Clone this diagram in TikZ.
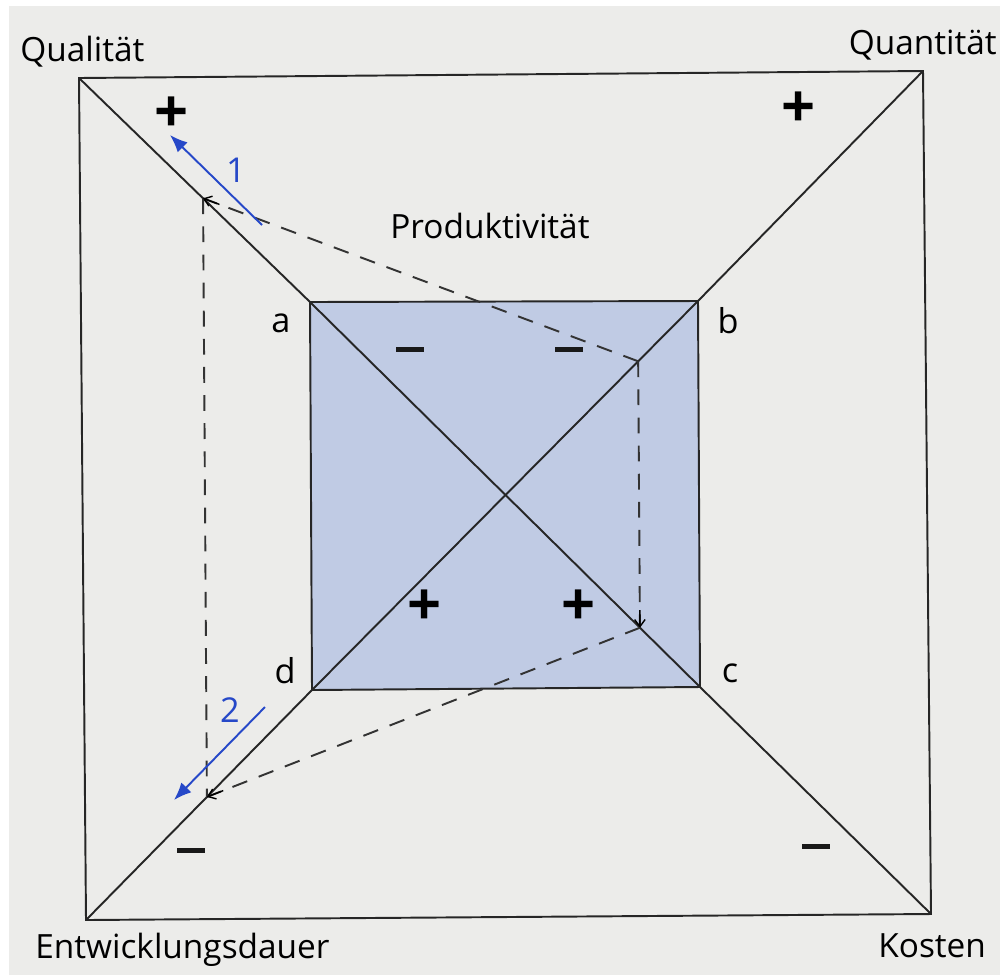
\documentclass[tikz,border=0pt]{standalone}
\usepackage{fontspec}
\setmainfont{Open Sans}
\usetikzlibrary{arrows.meta,calc}
\definecolor{bg}{RGB}{236,236,234}
\definecolor{boxblue}{RGB}{192,203,228}
\definecolor{arrowblue}{RGB}{38,72,200}
\begin{document}
\begin{tikzpicture}[x=0.02cm,y=-0.02cm,
  frame/.style={line width=1.1pt, draw=black!85, line join=miter},
  aux/.style={line width=1.1pt, draw=black!80, dash pattern=on 9pt off 7pt},
  tinytip/.style={-{Straight Barb[length=4pt,width=6pt,line width=0.8pt]}},
  sign/.style={font=\fontsize{34}{34}\selectfont\bfseries, inner sep=0pt},
  minus/.style={fill=black!90, minimum width=0.56cm, minimum height=0.1cm, inner sep=0pt},
  lbl/.style={font=\fontsize{19}{21}\selectfont, inner sep=0pt},
  corner/.style={font=\fontsize{19.5}{21}\selectfont, inner sep=0pt},
  bluearrow/.style={draw=arrowblue, line width=1.1pt, -{Latex[length=10pt,width=8pt]}},
  bluelbl/.style={font=\fontsize{19.5}{21}\selectfont, text=arrowblue, inner sep=0pt}]
\useasboundingbox (0,0) rectangle (1000,975);
\fill[bg] (0,0) rectangle (1000,975);
\fill[white] (0,0) rectangle (1000,6);
\fill[white] (0,0) rectangle (9,975);

% outer corners
\coordinate (Q) at (79,78);
\coordinate (T) at (923,71);
\coordinate (K) at (931,914);
\coordinate (E) at (86,920);
% inner corners
\coordinate (a) at (310,302);
\coordinate (b) at (698,301);
\coordinate (c) at (700,687);
\coordinate (d) at (312,690);

% inner square
\fill[boxblue] (a) -- (b) -- (c) -- (d) -- cycle;
\draw[frame] (a) -- (b) -- (c) -- (d) -- cycle;
\draw[frame] (Q) -- (T) -- (K) -- (E) -- cycle;
\draw[frame] (Q) -- (a);
\draw[frame] (T) -- (b);
\draw[frame] (K) -- (c);
\draw[frame] (E) -- (d);
\draw[frame] (a) -- (c);
\draw[frame] (b) -- (d);

% dashed quadrilateral
\coordinate (p1) at ($(Q)!0.537!(a)$);
\coordinate (p4) at ($(E)!0.535!(d)$);
\coordinate (p2) at ($(b)!0.155!(d)$);
\coordinate (p3) at ($(a)!0.846!(c)$);
\draw[aux] (p2) -- (p1);
\draw[aux] (p2) -- (p3);
\draw[aux] (p3) -- (p4);
\draw[aux] (p1) -- (p4);
\draw[tinytip, line width=0.8pt] ($(p1)!10pt!(p2)$) -- (p1);
\draw[tinytip, line width=0.8pt] ($(p4)!10pt!(p3)$) -- (p4);
\draw[tinytip, line width=0.8pt] ($(p3)!10pt!(p2)$) -- (p3);

% blue arrows
\coordinate (s1) at (262,225);
\coordinate (e1) at (170,135);
\coordinate (s2) at (265,707);
\coordinate (e2) at (174,800);
\draw[bluearrow] (s1) -- (e1);
\draw[bluearrow] (s2) -- (e2);
\node[bluelbl] (n1) at (236,170) {1};
\node[bluelbl] (n2) at (230,710) {2};

% signs
\node[sign] (sQ) at (172,115) {+};
\node[sign] (sT) at (799,110) {+};
\node[minus] (sE) at (191,850) {};
\node[minus] (sK) at (816,846) {};
\node[minus] (s1m) at (410,349) {};
\node[minus] (s2m) at (569,349) {};
\node[sign] (s1p) at (425,608) {+};
\node[sign] (s2p) at (579,608) {+};

% labels
\node[lbl, anchor=west] (lQ) at (20,52) {Qualität};
\node[lbl, anchor=east] (lT) at (997,45) {Quantität};
\node[lbl, anchor=west] (lE) at (35,950) {Entwicklungsdauer};
\node[lbl, anchor=west] (lK) at (878,946) {Kosten};
\node[lbl, anchor=west] (lP) at (390,226) {Produktivität};
\node[corner] (la) at (281,323) {a};
\node[corner] (lb) at (728,321) {b};
\node[corner] (lc) at (730,673) {c};
\node[corner] (ld) at (285,671) {d};
\end{tikzpicture}
\end{document}
